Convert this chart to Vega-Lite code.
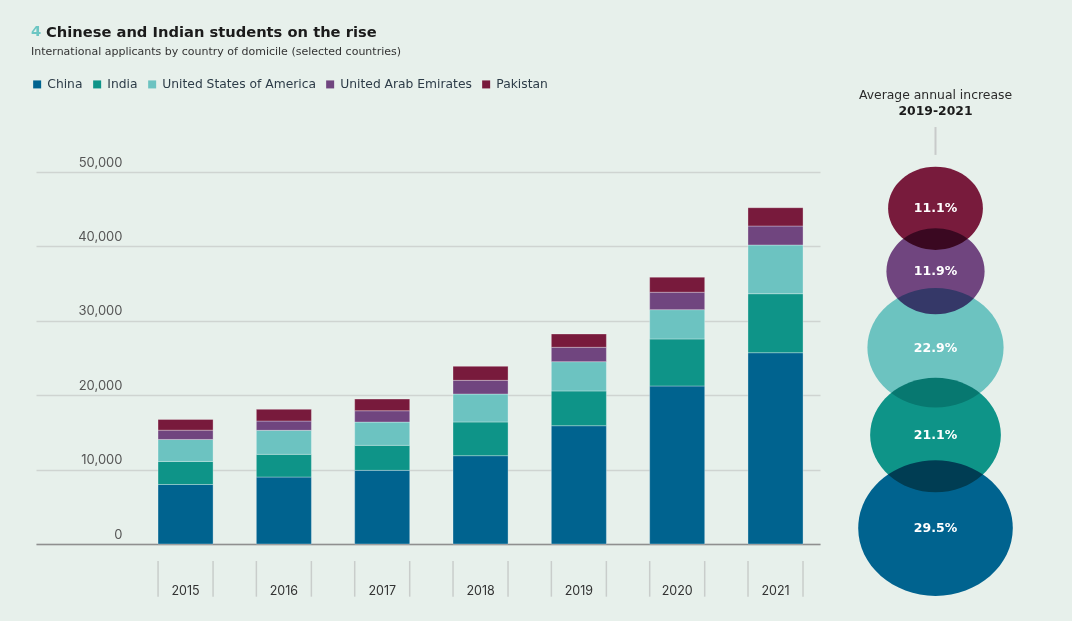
{
  "$schema": "https://vega.github.io/schema/vega-lite/v6.json",
  "background": "#e7f0eb",
  "padding": {"left": 31, "top": 23, "right": 59, "bottom": 23},
  "config": {
    "view": {"stroke": null},
    "font": "DejaVu Sans"
  },
  "datasets": {
    "bars": [
      {"year": "2015", "country": "China", "applicants": 8000},
      {"year": "2015", "country": "India", "applicants": 3100},
      {"year": "2015", "country": "United States of America", "applicants": 2950},
      {"year": "2015", "country": "United Arab Emirates", "applicants": 1250},
      {"year": "2015", "country": "Pakistan", "applicants": 1450},
      {"year": "2016", "country": "China", "applicants": 9000},
      {"year": "2016", "country": "India", "applicants": 3050},
      {"year": "2016", "country": "United States of America", "applicants": 3230},
      {"year": "2016", "country": "United Arab Emirates", "applicants": 1250},
      {"year": "2016", "country": "Pakistan", "applicants": 1570},
      {"year": "2017", "country": "China", "applicants": 9900},
      {"year": "2017", "country": "India", "applicants": 3360},
      {"year": "2017", "country": "United States of America", "applicants": 3130},
      {"year": "2017", "country": "United Arab Emirates", "applicants": 1520},
      {"year": "2017", "country": "Pakistan", "applicants": 1570},
      {"year": "2018", "country": "China", "applicants": 11870},
      {"year": "2018", "country": "India", "applicants": 4530},
      {"year": "2018", "country": "United States of America", "applicants": 3760},
      {"year": "2018", "country": "United Arab Emirates", "applicants": 1840},
      {"year": "2018", "country": "Pakistan", "applicants": 1880},
      {"year": "2019", "country": "China", "applicants": 15900},
      {"year": "2019", "country": "India", "applicants": 4670},
      {"year": "2019", "country": "United States of America", "applicants": 3940},
      {"year": "2019", "country": "United Arab Emirates", "applicants": 1930},
      {"year": "2019", "country": "Pakistan", "applicants": 1790},
      {"year": "2020", "country": "China", "applicants": 21240},
      {"year": "2020", "country": "India", "applicants": 6320},
      {"year": "2020", "country": "United States of America", "applicants": 3940},
      {"year": "2020", "country": "United Arab Emirates", "applicants": 2340},
      {"year": "2020", "country": "Pakistan", "applicants": 2020},
      {"year": "2021", "country": "China", "applicants": 25710},
      {"year": "2021", "country": "India", "applicants": 7930},
      {"year": "2021", "country": "United States of America", "applicants": 6550},
      {"year": "2021", "country": "United Arab Emirates", "applicants": 2550},
      {"year": "2021", "country": "Pakistan", "applicants": 2460}
    ],
    "growth": [
      {"country": "China", "increase": 0.295},
      {"country": "India", "increase": 0.211},
      {"country": "United States of America", "increase": 0.229},
      {"country": "United Arab Emirates", "increase": 0.119},
      {"country": "Pakistan", "increase": 0.111}
    ]
  },
  "title": {
    "text": "4",
    "subtitle": "International applicants by country of domicile (selected countries)",
    "anchor": "start",
    "color": "#6cc6c3",
    "font": "DejaVu Sans",
    "fontSize": 14.7,
    "fontWeight": "bold",
    "subtitleFont": "DejaVu Sans",
    "subtitleFontSize": 11,
    "subtitleColor": "#333333",
    "subtitleFontWeight": "normal",
    "subtitlePadding": 8,
    "offset": 0,
    "dy": 32
  },
  "spacing": 40,
  "bounds": "flush",
  "resolve": {"scale": {"color": "independent", "size": "independent", "x": "independent", "y": "independent"}},
  "hconcat": [
    {
      "width": 784,
      "height": 372,
      "title": {
        "text": "Chinese and Indian students on the rise",
        "anchor": "start",
        "color": "#1b1b1b",
        "font": "DejaVu Sans",
        "fontSize": 14.7,
        "fontWeight": "bold",
        "dx": 15,
        "offset": 38
      },
      "data": {"name": "bars"},
      "transform": [
        {"calculate": "indexof(['China', 'India', 'United States of America', 'United Arab Emirates', 'Pakistan'], datum.country)", "as": "stackOrder"}
      ],
      "layer": [
        {
          "mark": {"type": "bar", "stroke": "#ffffff", "strokeOpacity": 0.3, "strokeWidth": 1},
          "encoding": {
            "x": {
              "field": "year", "type": "ordinal",
              "scale": {"paddingInner": 0.44, "paddingOuter": 0.7067, "align": 0.878},
              "axis": {"title": null, "domain": true, "domainColor": "#8f8f8f", "domainWidth": 1.5, "ticks": false, "labelPadding": 50, "labelBaseline": "alphabetic", "labelFont": "Inter", "labelFontSize": 12.5, "labelColor": "#333333", "labelAngle": 0}
            },
            "y": {
              "field": "applicants", "type": "quantitative", "stack": "zero",
              "scale": {"domain": [0, 50000], "nice": false},
              "axis": {"title": null, "domain": false, "ticks": false, "grid": true, "gridColor": "#cfd4d1", "gridWidth": 1.3, "values": [0, 10000, 20000, 30000, 40000, 50000], "format": ",d", "labelAlign": "right", "labelBaseline": "alphabetic", "labelPadding": -86, "labelOffset": -6, "labelFont": "Inter", "labelFontSize": 13, "labelColor": "#555555"}
            },
            "order": {"field": "stackOrder", "type": "quantitative"},
            "color": {
              "field": "country", "type": "nominal",
              "sort": ["China", "India", "United States of America", "United Arab Emirates", "Pakistan"],
              "scale": {"domain": ["China", "India", "United States of America", "United Arab Emirates", "Pakistan"], "range": ["#00638f", "#0e9488", "#6cc3c1", "#70457f", "#781a3c"]},
              "legend": {"orient": "none", "legendX": -5, "legendY": -94, "direction": "horizontal", "title": null, "symbolType": "square", "symbolSize": 64, "symbolStrokeWidth": 0, "labelFont": "DejaVu Sans", "labelFontSize": 12.3, "labelColor": "#2d3c48", "labelOffset": 4, "columnPadding": 8, "padding": 0}
            }
          }
        },
        {
          "transform": [{"filter": "datum.country === 'China'"}],
          "mark": {"type": "rule", "xOffset": -27.5, "color": "#c9cdcb", "strokeWidth": 1.5},
          "encoding": {"x": {"field": "year", "type": "ordinal"}, "y": {"datum": -2290}, "y2": {"datum": -7080}}
        },
        {
          "transform": [{"filter": "datum.country === 'China'"}],
          "mark": {"type": "rule", "xOffset": 27.5, "color": "#c9cdcb", "strokeWidth": 1.5},
          "encoding": {"x": {"field": "year", "type": "ordinal"}, "y": {"datum": -2290}, "y2": {"datum": -7080}}
        }
      ]
    },
    {
      "width": 151,
      "height": 372,
      "title": {
        "text": "Average annual increase",
        "subtitle": "2019-2021",
        "anchor": "middle",
        "font": "DejaVu Sans",
        "fontSize": 12.4,
        "fontWeight": "normal",
        "color": "#2b2b2b",
        "subtitleFont": "DejaVu Sans",
        "subtitleFontSize": 12.4,
        "subtitleFontWeight": "bold",
        "subtitleColor": "#1b1b1b",
        "subtitlePadding": 3,
        "offset": 9
      },
      "data": {"name": "growth"},
      "transform": [
        {"calculate": "sqrt(datum.increase)", "as": "r"},
        {"stack": "r", "groupby": [], "as": ["r0", "r1"]},
        {"calculate": "(datum.r0 + datum.r1) / 2", "as": "mid"}
      ],
      "layer": [
        {
          "transform": [{"filter": "datum.country === 'China'"}],
          "mark": {"type": "rule", "color": "#c8cbca", "strokeWidth": 2},
          "encoding": {
            "x": {"datum": 0, "type": "quantitative", "scale": {"domain": [-1, 1]}, "axis": null},
            "y": {"datum": 2.43, "type": "quantitative", "scale": {"domain": [0.186, 2.188], "nice": false, "zero": false}, "axis": null},
            "y2": {"datum": 2.28}
          }
        },
        {
          "mark": {"type": "point", "shape": "M-1,0A1,0.877,0,1,0,1,0A1,0.877,0,1,0,-1,0Z", "filled": true, "opacity": 1, "blend": "multiply", "strokeWidth": 0},
          "encoding": {
            "x": {"datum": 0, "type": "quantitative"},
            "y": {"field": "mid", "type": "quantitative"},
            "size": {"field": "increase", "type": "quantitative", "scale": {"domain": [0, 0.3], "range": [0, 24300]}, "legend": null},
            "color": {
              "field": "country", "type": "nominal",
              "scale": {"domain": ["China", "India", "United States of America", "United Arab Emirates", "Pakistan"], "range": ["#00699b", "#0f9d94", "#77cfd1", "#7c498a", "#841c41"]},
              "legend": null
            }
          }
        },
        {
          "mark": {"type": "text", "color": "#ffffff", "font": "DejaVu Sans", "fontWeight": "bold", "fontSize": 12.5, "baseline": "middle", "align": "center"},
          "encoding": {
            "x": {"datum": 0, "type": "quantitative"},
            "y": {"field": "mid", "type": "quantitative"},
            "text": {"field": "increase", "type": "quantitative", "format": ".1%"}
          }
        }
      ]
    }
  ]
}
